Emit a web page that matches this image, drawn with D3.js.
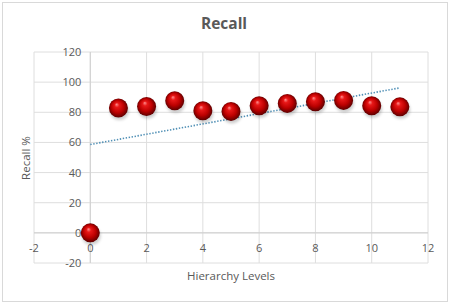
<!DOCTYPE html>
<html>
<head>
<meta charset="utf-8">
<script src="https://cdn.jsdelivr.net/npm/d3@7"></script>
<style>
  body { margin: 0; background: #fff; }
  text { font-family: "Open Sans", "Noto Sans", sans-serif; fill: #595959; }
</style>
</head>
<body>
<svg id="chart" width="456" height="308"></svg>
<script>
const levels = [0, 1, 2, 3, 4, 5, 6, 7, 8, 9, 10, 11];
const recall = [0, 82.8, 83.8, 87.6, 81, 80.6, 84.3, 85.9, 87, 87.9, 84.3, 83.6];
const xTicks = [-2, 0, 2, 4, 6, 8, 10, 12];
const yTicks = [-20, 0, 20, 40, 60, 80, 100, 120];

const svg = d3.select("#chart");

// chart frame
svg.append("rect")
  .attr("x", 2.5).attr("y", 2.5)
  .attr("width", 445).attr("height", 299)
  .attr("fill", "#fff")
  .attr("stroke", "#d9d9d9");

const x = d3.scaleLinear().domain([-2, 12]).range([34, 428]);
const y = d3.scaleLinear().domain([-20, 120]).range([263, 52]);

// gridlines
svg.append("g").selectAll("line")
  .data(yTicks).join("line")
  .attr("x1", x(-2)).attr("x2", x(12))
  .attr("y1", d => y(d)).attr("y2", d => y(d))
  .attr("stroke", "#dedede");

svg.append("g").selectAll("line")
  .data(xTicks).join("line")
  .attr("y1", y(-20)).attr("y2", y(120))
  .attr("x1", d => x(d)).attr("x2", d => x(d))
  .attr("stroke", "#dedede");

// axis lines through origin
svg.append("line")
  .attr("x1", x(-2)).attr("x2", x(12))
  .attr("y1", y(0)).attr("y2", y(0))
  .attr("stroke", "#cfcfcf");
svg.append("line")
  .attr("x1", x(0)).attr("x2", x(0))
  .attr("y1", y(-20)).attr("y2", y(120))
  .attr("stroke", "#cfcfcf");

// tick labels
svg.append("g").selectAll("text")
  .data(yTicks).join("text")
  .attr("x", x(0) - 9)
  .attr("y", d => y(d) + 4)
  .attr("text-anchor", "end")
  .attr("font-size", 11)
  .text(d => d);

svg.append("g").selectAll("text")
  .data(xTicks).join("text")
  .attr("x", d => x(d))
  .attr("y", y(0) + 19)
  .attr("text-anchor", "middle")
  .attr("font-size", 11)
  .text(d => d);

// title and axis titles
svg.append("text")
  .attr("x", 224).attr("y", 29)
  .attr("text-anchor", "middle")
  .attr("font-size", 15.5)
  .attr("font-weight", "bold")
  .text("Recall");

svg.append("text")
  .attr("x", 231).attr("y", 280)
  .attr("text-anchor", "middle")
  .attr("font-size", 11.5)
  .text("Hierarchy Levels");

svg.append("text")
  .attr("transform", `translate(30,158) rotate(-90)`)
  .attr("text-anchor", "middle")
  .attr("font-size", 11.5)
  .text("Recall %");

// linear trendline from least squares fit
const mx = d3.mean(levels), my = d3.mean(recall);
const slope = d3.sum(levels, (v, i) => (v - mx) * (recall[i] - my)) /
              d3.sum(levels, v => (v - mx) ** 2);
const icpt = my - slope * mx;
const ext = d3.extent(levels);

svg.append("path")
  .datum(ext)
  .attr("d", d3.line().x(d => x(d)).y(d => y(icpt + slope * d)))
  .attr("fill", "none")
  .attr("stroke", "#4f8fb5")
  .attr("stroke-width", 1.6)
  .attr("stroke-dasharray", "1.4,1.6");

// sphere markers
const defs = svg.append("defs");
const grad = defs.append("radialGradient")
  .attr("id", "ball")
  .attr("cx", "50%").attr("cy", "50%").attr("r", "55%")
  .attr("fx", "40%").attr("fy", "30%");
grad.append("stop").attr("offset", "0%").attr("stop-color", "#ff9090");
grad.append("stop").attr("offset", "22%").attr("stop-color", "#e81818");
grad.append("stop").attr("offset", "60%").attr("stop-color", "#bb0000");
grad.append("stop").attr("offset", "100%").attr("stop-color", "#4a0000");

const blur = defs.append("filter").attr("id", "shadow")
  .attr("x", "-50%").attr("y", "-50%").attr("width", "200%").attr("height", "200%");
blur.append("feGaussianBlur").attr("stdDeviation", 1.5);

const pts = levels.map((v, i) => ({ x: v, y: recall[i] }));

svg.append("g").selectAll("ellipse")
  .data(pts).join("ellipse")
  .attr("cx", d => x(d.x) + 1)
  .attr("cy", d => y(d.y) + 3)
  .attr("rx", 9.5).attr("ry", 9)
  .attr("fill", "#000")
  .attr("opacity", 0.2)
  .attr("filter", "url(#shadow)");

svg.append("g").selectAll("circle")
  .data(pts).join("circle")
  .attr("cx", d => x(d.x))
  .attr("cy", d => y(d.y))
  .attr("r", 9.5)
  .attr("fill", "url(#ball)");
</script>
</body>
</html>
